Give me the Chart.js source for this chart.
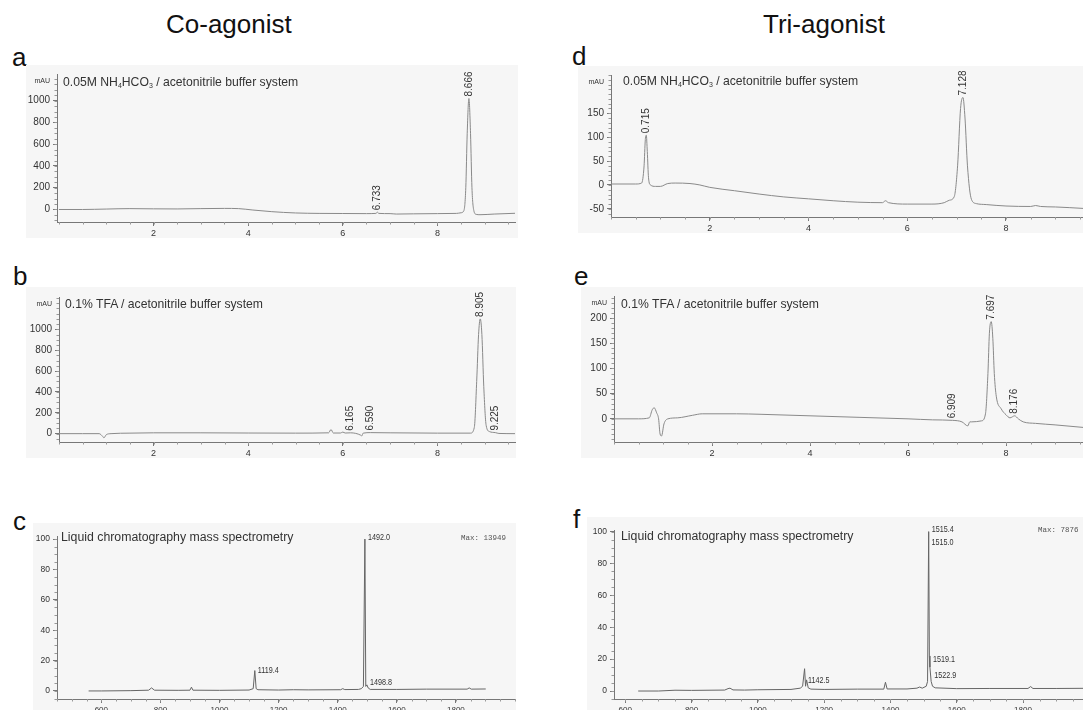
<!DOCTYPE html>
<html>
<head>
<meta charset="utf-8">
<script src="https://cdn.jsdelivr.net/npm/chart.js@4.4.1/dist/chart.umd.min.js"></script>
<style>
  html, body { margin: 0; padding: 0; background: #fff; overflow: hidden; }
  #page { position: relative; width: 1083px; height: 710px; overflow: hidden; font-family: "Liberation Sans", Arial, sans-serif; color: #222; }
  #page canvas { position: absolute; }
  .txt { position: absolute; white-space: nowrap; line-height: 1; }
  .title { font-size: 26px; color: #111; }
  .letter { font-size: 26px; color: #111; }
  .note { font-size: 12.2px; color: #333; }
  .note sub { font-size: 7px; vertical-align: -2px; }
  .ms { font-size: 12.3px; color: #333; }
  .max { font-family: "Liberation Mono", "DejaVu Sans Mono", monospace; font-size: 7.5px; color: #555; }
</style>
</head>
<body>
<div id="page">
  <div class="txt title" style="left:166px;top:11px">Co-agonist</div>
  <div class="txt title" style="left:763px;top:11px">Tri-agonist</div>

  <div class="txt letter" style="left:12px;top:44px">a</div>
  <div class="txt letter" style="left:572px;top:43px">d</div>
  <div class="txt letter" style="left:13px;top:263px">b</div>
  <div class="txt letter" style="left:574px;top:263px">e</div>
  <div class="txt letter" style="left:13px;top:508px">c</div>
  <div class="txt letter" style="left:573px;top:506px">f</div>

  <canvas id="chartA"></canvas>
  <canvas id="chartD"></canvas>
  <canvas id="chartB"></canvas>
  <canvas id="chartE"></canvas>
  <canvas id="chartC"></canvas>
  <canvas id="chartF"></canvas>

  <div class="txt note" style="left:63px;top:76px">0.05M NH<sub>4</sub>HCO<sub>3</sub> / acetonitrile buffer system</div>
  <div class="txt note" style="left:623px;top:75px">0.05M NH<sub>4</sub>HCO<sub>3</sub> / acetonitrile buffer system</div>
  <div class="txt note" style="left:65px;top:298px">0.1% TFA / acetonitrile buffer system</div>
  <div class="txt note" style="left:621px;top:298px">0.1% TFA / acetonitrile buffer system</div>
  <div class="txt ms" style="left:61px;top:531px">Liquid chromatography mass spectrometry</div>
  <div class="txt ms" style="left:621px;top:530px">Liquid chromatography mass spectrometry</div>
  <div class="txt max" style="left:461px;top:535px">Max: 13949</div>
  <div class="txt max" style="left:1038px;top:527px">Max: 7876</div>
</div>

<script>
// panel a: co-agonist, NH4HCO3 buffer (retention time, mAU)
const aTime = [0, 0.5, 1.0, 1.5, 2.0, 2.5, 3.0, 3.5, 3.8, 4.1, 4.5, 5.0, 5.5, 6.0, 6.5, 6.70, 6.733, 6.76, 7.0, 7.13, 7.5, 8.0, 8.4, 8.50, 8.56, 8.60, 8.63, 8.666, 8.70, 8.73, 8.77, 8.82, 8.9, 9.2, 9.64];
const aSignal = [0, 0, 4, 8, 6, 5, 8, 10, 8, -5, -20, -32, -36, -37, -38, -36, -25, -36, -38, -42, -40, -38, -36, -30, -10, 200, 700, 1020, 700, 200, -10, -45, -48, -42, -35];
const aPeakTimes = [6.733, 8.666];
const aXTicks = [2, 4, 6, 8];
const aYTicks = [0, 200, 400, 600, 800, 1000];

// panel d: tri-agonist, NH4HCO3 buffer
const dTime = [0, 0.5, 0.62, 0.67, 0.695, 0.715, 0.735, 0.76, 0.8, 0.9, 1.0, 1.15, 1.3, 1.6, 1.8, 2.0, 2.5, 3.0, 3.5, 4.0, 4.5, 5.0, 5.5, 5.56, 5.62, 6.0, 6.5, 6.75, 6.85, 6.95, 7.02, 7.08, 7.128, 7.17, 7.22, 7.3, 7.4, 7.6, 8.0, 8.5, 8.6, 8.7, 9.0, 9.56];
const dSignal = [2, 2, 4, 40, 95, 104, 70, 15, 0, -3, -3, 3, 4, 3, 0, -5, -12, -19, -25, -29, -33, -36, -37, -33, -37, -40, -40, -37, -32, -25, 40, 160, 183, 140, 40, -30, -39, -41, -44, -45, -43, -45, -46, -49];
const dPeakTimes = [0.715, 7.128];
const dXTicks = [2, 4, 6, 8];
const dYTicks = [-50, 0, 50, 100, 150];

// panel b: co-agonist, TFA buffer
const bTime = [0, 0.5, 0.85, 0.92, 0.95, 1.0, 1.1, 1.5, 2.0, 3.0, 4.0, 5.0, 5.7, 5.75, 5.8, 5.95, 6.0, 6.05, 6.165, 6.38, 6.4, 6.43, 6.59, 7.0, 8.0, 8.7, 8.78, 8.83, 8.87, 8.905, 8.94, 8.98, 9.03, 9.1, 9.225, 9.3, 9.64];
const bSignal = [0, 0, 0, -25, -40, -10, 0, 5, 8, 8, 6, 5, 8, 40, 6, 6, 15, 6, 8, -15, -22, 5, 10, 8, 5, 5, 60, 500, 950, 1100, 950, 450, 80, 20, 10, 2, 0];
const bPeakTimes = [6.165, 6.59, 8.905, 9.225];
const bXTicks = [2, 4, 6, 8];
const bYTicks = [0, 200, 400, 600, 800, 1000];

// panel e: tri-agonist, TFA buffer
const eTime = [0, 0.5, 0.72, 0.78, 0.82, 0.87, 0.91, 0.94, 0.97, 1.02, 1.1, 1.3, 1.6, 1.8, 2.5, 3.0, 4.0, 5.0, 6.0, 6.5, 6.909, 7.1, 7.22, 7.26, 7.3, 7.5, 7.58, 7.63, 7.66, 7.697, 7.73, 7.76, 7.8, 7.9, 8.0, 8.08, 8.176, 8.25, 8.35, 8.6, 9.0, 9.57];
const eSignal = [0, 0, 2, 18, 22, 12, 0, -30, -34, -10, 0, 2, 7, 10, 10, 9, 6, 3, 0, -2, -3, -6, -14, -6, -6, -4, 10, 90, 170, 193, 160, 90, 45, 20, 8, 2, 6, 0, -6, -9, -12, -17];
const ePeakTimes = [6.909, 7.697, 8.176];
const eXTicks = [2, 4, 6, 8];
const eYTicks = [0, 50, 100, 150, 200];

// panel c: co-agonist LC-MS (m/z, relative abundance)
const cMass = [557, 600, 700, 760, 770, 780, 860, 900, 905, 910, 1000, 1100, 1114, 1119.4, 1124, 1130, 1200, 1250, 1300, 1410, 1417, 1424, 1470, 1480, 1487, 1492.0, 1495, 1498.8, 1503, 1510, 1600, 1700, 1838, 1845, 1852, 1901];
const cIntensity = [0, 0, 0.2, 0.5, 2, 0.5, 0.4, 0.5, 2.5, 0.5, 0.4, 0.6, 1.5, 13.4, 1.5, 0.8, 0.6, 0.8, 0.7, 0.8, 1.5, 0.9, 1, 1.5, 3, 100, 3, 4, 2, 1, 1, 1.2, 1.2, 2, 1.2, 1.3];
const cLabelMass = [1119.4, 1492.0, 1498.8];
const cLabelLevel = [13.4, 100.7, 5.7];
const cXTicks = [600, 800, 1000, 1200, 1400, 1600, 1800];
const cYTicks = [0, 20, 40, 60, 80, 100];

// panel f: tri-agonist LC-MS
const fMass = [639, 700, 750, 800, 900, 910, 916, 925, 960, 1000, 1100, 1128, 1135, 1141, 1144, 1147, 1152, 1160, 1200, 1300, 1380, 1385, 1390, 1450, 1480, 1488, 1496, 1508, 1512, 1515.4, 1517.5, 1519.1, 1522.9, 1527, 1535, 1600, 1700, 1815, 1823, 1830, 1900, 1981];
const fIntensity = [0, 0, 0.5, 0.4, 0.6, 1.5, 1.8, 0.7, 0.6, 0.8, 1, 1.8, 3, 14, 3, 7, 2, 1.2, 1, 1.2, 1.2, 5.5, 1.3, 1.3, 1.8, 2.5, 1.8, 3, 6, 100, 22, 15, 6, 3, 2, 1.5, 1.6, 1.6, 2.8, 1.6, 1.6, 1.7];
const fLabelMass = [1142.5, 1515.4, 1515.0, 1519.1, 1522.9];
const fLabelLevel = [6.9, 101.4, 93, 19.5, 9.5];
const fXTicks = [600, 800, 1000, 1200, 1400, 1600, 1800];
const fYTicks = [0, 20, 40, 60, 80, 100];

const FONT = '"Liberation Sans", Arial, sans-serif';

function makeChart(id, o) {
  const cv = document.getElementById(id);
  const [bl, bt, br, bb] = o.box;
  const [pl, pt, pr, pb] = o.plot;
  cv.width = br - bl;
  cv.height = bb - bt;
  cv.style.left = bl + 'px';
  cv.style.top = bt + 'px';

  const points = o.xs.map((x, i) => ({ x: x, y: o.ys[i] }));

  const marks = {
    id: 'marks',
    beforeDraw(chart) {
      const ctx = chart.ctx;
      ctx.save();
      ctx.fillStyle = '#f6f6f6';
      ctx.fillRect(0, 0, chart.width, chart.height);
      ctx.restore();
    },
    afterDraw(chart) {
      const ctx = chart.ctx, xs = chart.scales.x, ys = chart.scales.y, ca = chart.chartArea;
      ctx.save();
      // minor ticks
      ctx.strokeStyle = '#999';
      ctx.lineWidth = 1;
      ctx.beginPath();
      const nx = Math.floor((xs.max - xs.min) / o.xMinor);
      for (let k = 0; k <= nx + 1; k++) {
        const v = Math.ceil(xs.min / o.xMinor) * o.xMinor + k * o.xMinor;
        if (v > xs.max) break;
        const p = Math.round(xs.getPixelForValue(v)) + 0.5;
        ctx.moveTo(p, ca.bottom);
        ctx.lineTo(p, ca.bottom + 2.5);
      }
      const ny = Math.floor((ys.max - ys.min) / o.yMinor);
      for (let k = 0; k <= ny + 1; k++) {
        const v = Math.ceil(ys.min / o.yMinor) * o.yMinor + k * o.yMinor;
        if (v > ys.max) break;
        const p = Math.round(ys.getPixelForValue(v)) + 0.5;
        ctx.moveTo(ca.left, p);
        ctx.lineTo(ca.left - 2.5, p);
      }
      ctx.stroke();

      ctx.fillStyle = '#333';
      if (o.unit) {
        ctx.font = '7px ' + FONT;
        ctx.textAlign = 'right';
        ctx.textBaseline = 'middle';
        ctx.fillText(o.unit, ca.left - 7, ca.top + 7);
      }
      // rotated retention-time labels above peaks
      if (o.peaks) {
        ctx.font = '10px ' + FONT;
        ctx.textAlign = 'left';
        ctx.textBaseline = 'middle';
        o.peaks.forEach(t => {
          const i = o.xs.indexOf(t);
          const px = xs.getPixelForValue(t);
          const py = ys.getPixelForValue(o.ys[i]) - 2;
          ctx.save();
          ctx.translate(px, py);
          ctx.rotate(-Math.PI / 2);
          ctx.fillText(t.toFixed(3), 0, 0);
          ctx.restore();
        });
      }
      // m/z labels beside peaks
      if (o.labels) {
        ctx.font = '9px ' + FONT;
        ctx.textAlign = 'left';
        ctx.textBaseline = 'middle';
        o.labels.mass.forEach((m, i) => {
          const px = xs.getPixelForValue(m) + 3;
          const py = ys.getPixelForValue(o.labels.level[i]);
          ctx.save();
          ctx.translate(px, py);
          ctx.scale(0.8, 1);
          ctx.fillText(m.toFixed(1), 0, 0);
          ctx.restore();
        });
      }
      ctx.restore();
    }
  };

  return new Chart(cv.getContext('2d'), {
    type: 'line',
    data: {
      datasets: [{
        data: points,
        borderColor: o.color,
        borderWidth: 1,
        pointRadius: 0,
        cubicInterpolationMode: o.smooth ? 'monotone' : 'default',
        tension: 0
      }]
    },
    options: {
      responsive: false,
      animation: false,
      events: [],
      layout: { padding: { top: pt - bt, right: br - pr, left: 0, bottom: 0 } },
      scales: {
        x: {
          type: 'linear',
          min: o.xMin,
          max: o.xMax,
          afterBuildTicks: s => { s.ticks = o.xTicks.map(v => ({ value: v })); },
          afterFit: s => { s.height = bb - pb; },
          grid: { drawOnChartArea: false, drawTicks: true, tickLength: 4, color: '#777' },
          border: { display: true, color: '#777', width: 1 },
          ticks: { font: { size: o.xFont, family: FONT }, color: '#333', padding: 2, maxRotation: 0, autoSkip: false, callback: v => String(v) }
        },
        y: {
          type: 'linear',
          min: o.yMin,
          max: o.yMax,
          afterBuildTicks: s => { s.ticks = o.yTicks.map(v => ({ value: v })); },
          afterFit: s => { s.width = pl - bl; },
          grid: { drawOnChartArea: false, drawTicks: true, tickLength: 4, color: '#777' },
          border: { display: true, color: '#777', width: 1 },
          ticks: { font: { size: o.yFont, family: FONT }, color: '#333', padding: 3, autoSkip: false, callback: v => String(v) }
        }
      },
      plugins: { legend: { display: false }, tooltip: { enabled: false } }
    },
    plugins: [marks]
  });
}

makeChart('chartA', {
  box: [26, 65, 518, 238], plot: [57, 72, 515, 222],
  xs: aTime, ys: aSignal, peaks: aPeakTimes, unit: 'mAU', smooth: true, color: '#8a8a8a',
  xMin: -0.04, xMax: 9.64, yMin: -115, yMax: 1245, xTicks: aXTicks, yTicks: aYTicks,
  xMinor: 0.5, yMinor: 50, xFont: 9, yFont: 10
});
makeChart('chartD', {
  box: [578, 66, 1083, 233], plot: [611, 73, 1083, 217],
  xs: dTime, ys: dSignal, peaks: dPeakTimes, unit: 'mAU', smooth: true, color: '#8a8a8a',
  xMin: 0, xMax: 9.56, yMin: -67, yMax: 230, xTicks: dXTicks, yTicks: dYTicks,
  xMinor: 0.5, yMinor: 10, xFont: 9, yFont: 10
});
makeChart('chartB', {
  box: [26, 287, 516, 458], plot: [59, 297, 515, 442],
  xs: bTime, ys: bSignal, peaks: bPeakTimes, unit: 'mAU', smooth: true, color: '#8a8a8a',
  xMin: 0, xMax: 9.64, yMin: -80, yMax: 1310, xTicks: bXTicks, yTicks: bYTicks,
  xMinor: 0.5, yMinor: 50, xFont: 9, yFont: 10
});
makeChart('chartE', {
  box: [581, 287, 1083, 458], plot: [614, 293, 1083, 442],
  xs: eTime, ys: eSignal, peaks: ePeakTimes, unit: 'mAU', smooth: true, color: '#8a8a8a',
  xMin: 0, xMax: 9.57, yMin: -46, yMax: 244, xTicks: eXTicks, yTicks: eYTicks,
  xMinor: 0.5, yMinor: 10, xFont: 9, yFont: 10
});
makeChart('chartC', {
  box: [33, 523, 516, 720], plot: [57, 536, 515, 699],
  xs: cMass, ys: cIntensity, labels: { mass: cLabelMass, level: cLabelLevel }, smooth: false, color: '#666',
  xMin: 450, xMax: 2000, yMin: -5.3, yMax: 102, xTicks: cXTicks, yTicks: cYTicks,
  xMinor: 50, yMinor: 5, xFont: 8, yFont: 8.5
});
makeChart('chartF', {
  box: [587, 517, 1083, 720], plot: [614, 530, 1083, 699],
  xs: fMass, ys: fIntensity, labels: { mass: fLabelMass, level: fLabelLevel }, smooth: false, color: '#666',
  xMin: 566, xMax: 1981, yMin: -5, yMax: 101, xTicks: fXTicks, yTicks: fYTicks,
  xMinor: 50, yMinor: 5, xFont: 8, yFont: 8.5
});
</script>
</body>
</html>
